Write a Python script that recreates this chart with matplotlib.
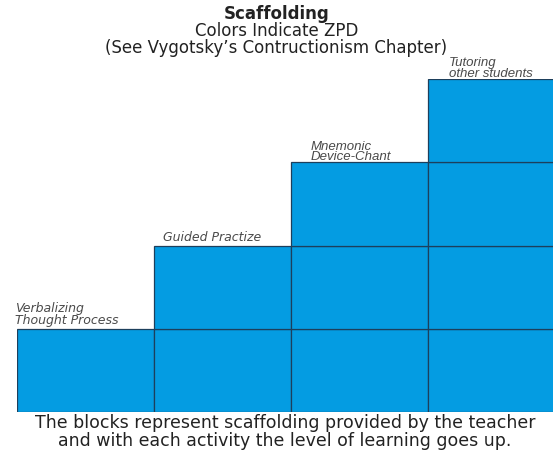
import numpy as np
import matplotlib.pyplot as plt

activities = ["Verbalizing\nThought Process", "Guided Practize",
              "Mnemonic\nDevice-Chant", "Tutoring\nother students"]
levels = [1, 2, 3, 4]

title_lines = ["Scaffolding", "Colors Indicate ZPD",
               "(See Vygotsky\u2019s Contructionism Chapter)"]
caption = ("The blocks represent scaffolding provided by the teacher\n"
           "and with each activity the level of learning goes up.")

block_color = "#049ce2"
edge_color = "#1d3f5c"

fig = plt.figure(figsize=(5.53, 4.52), dpi=100)
# the last column runs past the right edge of the picture
ax = fig.add_axes([17 / 553, 1 - 413 / 452, 548 / 553, 333 / 452])

x = np.arange(len(levels))
lv = np.array(levels)
for k in range(max(levels)):
    cols = x[lv > k]
    ax.bar(cols, np.ones(len(cols)), bottom=k, width=1.0, align="edge",
           color=block_color, edgecolor=edge_color, linewidth=0.9)

ax.set_xlim(0, len(levels))
ax.set_ylim(0, max(levels))
ax.axis("off")

# first two labels in a heavier face, last two in a plain Arial-like one
offsets = [-0.015, 0.066, 0.146, 0.153]
for i, (name, h) in enumerate(zip(activities, levels)):
    if i < 2:
        ax.text(i + offsets[i], h + 0.03, name, ha="left", va="bottom",
                fontsize=9, style="italic", family="DejaVu Sans",
                color="#4a4a4a", linespacing=0.95, clip_on=False)
    else:
        ax.text(i + offsets[i], h + 0.0, name, ha="left", va="bottom",
                fontsize=9.5, style="italic", family="Liberation Sans",
                color="#4a4a4a", linespacing=0.85, clip_on=False)

ys = [14, 31, 48]
for j, (line, y) in enumerate(zip(title_lines, ys)):
    fig.text(0.5, 1 - y / 452, line, ha="center", va="center",
             fontsize=12, fontweight="bold" if j == 0 else "normal",
             family="DejaVu Sans", color="#222222")

fig.text(0.515, 1 - 432 / 452, caption, ha="center", va="center",
         fontsize=12.5, family="DejaVu Sans", color="#222222", linespacing=0.95)

fig.savefig("out.png", dpi=100)
